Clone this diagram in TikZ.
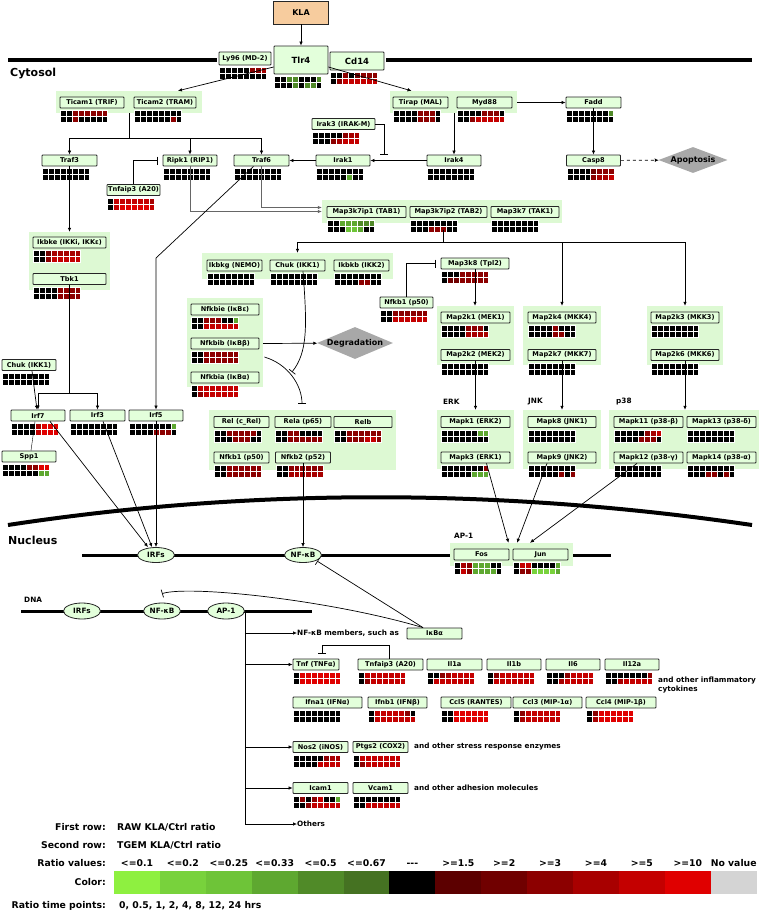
\documentclass[tikz,border=0pt]{standalone}
\usepackage{fontspec}
\setmainfont{DejaVu Sans}
\usetikzlibrary{arrows.meta,shapes.geometric}

\definecolor{genefill}{HTML}{E3FFDB}
\definecolor{grpfill}{HTML}{DDF9D3}
\definecolor{klafill}{HTML}{F7CC9E}
\definecolor{fategray}{HTML}{A8A8A8}
% heat map colours
\definecolor{hck}{HTML}{000000}
\definecolor{hc1}{HTML}{5C0000}
\definecolor{hc2}{HTML}{700000}
\definecolor{hc3}{HTML}{8C0000}
\definecolor{hc4}{HTML}{A80000}
\definecolor{hc5}{HTML}{C40000}
\definecolor{hc6}{HTML}{E00000}
\definecolor{hca}{HTML}{8EF040}
\definecolor{hcb}{HTML}{78D23C}
\definecolor{hcc}{HTML}{6EC438}
\definecolor{hcd}{HTML}{5EA830}
\definecolor{hce}{HTML}{508A28}
\definecolor{hcf}{HTML}{457222}
\definecolor{hcn}{HTML}{D4D4D4}

\newcommand\genefont{\bfseries\fontsize{6.6}{7.5}\selectfont}
\newcommand\labfont{\bfseries\fontsize{7.3}{8.5}\selectfont}
\newcommand\fatefont{\bfseries\fontsize{8}{9}\selectfont}
\newcommand\legfont{\bfseries\fontsize{9.3}{11}\selectfont}
\newcommand\compfont{\bfseries\fontsize{11}{13}\selectfont}

% two rows of eight cells under a gene box
\newcommand\heat[3]{%
  \coordinate (hp) at ([shift={(1,2)}]#1.south west);
  \def\hy{0}\def\hx{0}\hcells#2\relax
  \def\hy{6}\def\hx{0}\hcells#3\relax}
\def\hcells#1{\ifx#1\relax\else
  \path[fill=hc#1, draw=white, line width=0.45pt] ([shift={(\hx,\hy)}]hp) rectangle ++(5.875,6);
  \pgfmathsetmacro\hx{\hx+5.875}%
  \expandafter\hcells\fi}

\tikzset{
  gene/.style={draw=black!85, fill=genefill, line width=0.8pt, rounded corners=0.8pt,
    inner sep=0pt, minimum height=11, font=\genefont},
  grp/.style={fill=grpfill, inner sep=0pt},
  arr/.style={-{Latex[length=4pt,width=3.6pt]}, line width=0.7pt},
  inh/.style={-{Bar[width=8pt]}, line width=0.7pt},
  tf/.style={ellipse, draw=black!85, fill=genefill, line width=0.8pt, inner sep=0pt,
    minimum width=37, minimum height=15, font=\labfont},
  fate/.style={diamond, fill=fategray, inner sep=0pt, font=\fatefont},
  lab/.style={font=\labfont, inner sep=0pt, anchor=west},
  leg/.style={font=\legfont, inner sep=0pt},
  mem/.style={line width=3.5pt},
}

\begin{document}
\begin{tikzpicture}[x=1pt,y=-1pt]
\useasboundingbox (0,0) rectangle (760,913);
%% membranes
\draw[mem] (8,60) -- (217,60);
\draw[mem] (386,60) -- (752,60);
\draw[line width=4pt] (8,525) .. controls (250,488) and (500,488) .. (752,525);
\draw[line width=3pt] (82,555) -- (611,555);
\draw[line width=3pt] (21,611) -- (312,611);
\node[font=\compfont, anchor=west, inner sep=0pt] (cyto) at (10,74) {Cytosol};
\node[font=\compfont, anchor=west, inner sep=0pt] (nucl) at (8,540) {Nucleus};

%% group backgrounds
\node[grp, minimum width=146, minimum height=22] (gTicam) at (129,102) {};
\node[grp, minimum width=127, minimum height=22] (gTirap) at (453.5,102) {};
\node[grp, minimum width=240, minimum height=23] (gTak) at (442,211.5) {};
\node[grp, minimum width=81, minimum height=58] (gIkbke) at (69.5,261) {};
\node[grp, minimum width=191, minimum height=26] (gIKK) at (297.5,266) {};
\node[grp, minimum width=76, minimum height=89] (gIkB) at (225,342.5) {};
\node[grp, minimum width=77, minimum height=59] (gMek) at (475.5,335.5) {};
\node[grp, minimum width=78, minimum height=59] (gMkk4) at (562,335.5) {};
\node[grp, minimum width=76, minimum height=59] (gMkk3) at (685,335.5) {};
\node[grp, minimum width=187, minimum height=60] (gNFkB) at (302.5,440) {};
\node[grp, minimum width=77, minimum height=59] (gErk) at (475.5,439.5) {};
\node[grp, minimum width=78, minimum height=59] (gJnk) at (562,439.5) {};
\node[grp, minimum width=150, minimum height=59] (gP38) at (684,439.5) {};
\node[grp, minimum width=123, minimum height=23] (gAP1) at (511.5,554.5) {};

%% receptor
\node[draw=black!85, fill=klafill, line width=0.8pt, minimum width=55, minimum height=23,
  font=\fatefont] (KLA) at (301,12.5) {KLA};
\node[gene, minimum width=52, minimum height=13] (Ly96) at (245,58.5) {Ly96 (MD-2)};
\node[gene, minimum width=54, minimum height=28, font=\bfseries\fontsize{8.5}{10}\selectfont] (Tlr4) at (301,60) {Tlr4};
\node[gene, minimum width=54, minimum height=18, font=\bfseries\fontsize{8.5}{10}\selectfont] (Cd14) at (357,61) {Cd14};

%% adaptors and kinases
\node[gene, minimum width=64] (Ticam1) at (92,102.5) {Ticam1 (TRIF)};
\node[gene, minimum width=62] (Ticam2) at (165,102.5) {Ticam2 (TRAM)};
\node[gene, minimum width=55] (Tirap) at (420.5,102.5) {Tirap (MAL)};
\node[gene, minimum width=55] (Myd88) at (484.5,102.5) {Myd88};
\node[gene, minimum width=55] (Fadd) at (593.5,102.5) {Fadd};
\node[gene, minimum width=63] (Irak3) at (343.5,124) {Irak3 (IRAK-M)};
\node[gene, minimum width=55] (Traf3) at (69.5,160.5) {Traf3};
\node[gene, minimum width=54] (Ripk1) at (190,160.5) {Ripk1 (RIP1)};
\node[gene, minimum width=55] (Traf6) at (261.5,160.5) {Traf6};
\node[gene, minimum width=54] (Irak1) at (343,160.5) {Irak1};
\node[gene, minimum width=54] (Irak4) at (454,160.5) {Irak4};
\node[gene, minimum width=54] (Casp8) at (593.5,160.5) {Casp8};
\node[fate, aspect=2.65, minimum width=69, minimum height=26] (Apop) at (693,160) {Apoptosis};
\node[gene, minimum width=53] (TnfaipA) at (133.5,190) {Tnfaip3 (A20)};
\node[gene, minimum width=79] (Tab1) at (366.5,212) {Map3k7ip1 (TAB1)};
\node[gene, minimum width=77] (Tab2) at (448.5,212) {Map3k7ip2 (TAB2)};
\node[gene, minimum width=68] (Tak1) at (525,212) {Map3k7 (TAK1)};
\node[gene, minimum width=73] (Ikbke) at (69.5,242.5) {Ikbke (IKKi, IKKε)};
\node[gene, minimum width=73] (Tbk1) at (69.5,279) {Tbk1};
\node[gene, minimum width=55] (Ikbkg) at (234.5,265.5) {Ikbkg (NEMO)};
\node[gene, minimum width=55] (Chuk) at (297.5,265.5) {Chuk (IKK1)};
\node[gene, minimum width=55] (Ikbkb) at (361.5,265.5) {Ikbkb (IKK2)};
\node[gene, minimum width=68] (Tpl2) at (475,263.5) {Map3k8 (Tpl2)};
\node[gene, minimum width=53] (NfkbA) at (406.5,302.5) {Nfkb1 (p50)};
\node[gene, minimum width=68] (Nfkbie) at (225,309.5) {Nfkbie (IκBε)};
\node[gene, minimum width=68] (Nfkbib) at (225,343.5) {Nfkbib (IκBβ)};
\node[gene, minimum width=68] (Nfkbia) at (225,377.5) {Nfkbia (IκBα)};
\node[fate, aspect=2.35, minimum width=76, minimum height=32] (Degr) at (355,343) {Degradation};
\node[gene, minimum width=69] (Mek1) at (475.5,317.5) {Map2k1 (MEK1)};
\node[gene, minimum width=69] (Mek2) at (475.5,355) {Map2k2 (MEK2)};
\node[gene, minimum width=68] (Mkk4) at (562,317.5) {Map2k4 (MKK4)};
\node[gene, minimum width=68] (Mkk7) at (562,355) {Map2k7 (MKK7)};
\node[gene, minimum width=68] (Mkk3) at (685,317.5) {Map2k3 (MKK3)};
\node[gene, minimum width=68] (Mkk6) at (685,355) {Map2k6 (MKK6)};
\node[gene, minimum width=54] (ChukL) at (29,365) {Chuk (IKK1)};

%% transcription factors
\node[gene, minimum width=54] (Irf7) at (38,415.5) {Irf7};
\node[gene, minimum width=55] (Irf3) at (97.5,415.5) {Irf3};
\node[gene, minimum width=54] (Irf5) at (156,415.5) {Irf5};
\node[gene, minimum width=54] (Spp1) at (29,456.5) {Spp1};
\node[gene, minimum width=55] (Rel) at (241.5,422) {Rel (c\_Rel)};
\node[gene, minimum width=56] (Rela) at (303,422) {Rela (p65)};
\node[gene, minimum width=58] (Relb) at (363,422) {Relb};
\node[gene, minimum width=55] (NfkbB) at (241.5,457.5) {Nfkb1 (p50)};
\node[gene, minimum width=55] (Nfkb2) at (303,457.5) {Nfkb2 (p52)};
\node[lab] (lErk) at (443,402) {ERK};
\node[lab] (lJnk) at (528,402) {JNK};
\node[lab] (lP38) at (616,402) {p38};
\node[gene, minimum width=69] (Erk2) at (475.5,422) {Mapk1 (ERK2)};
\node[gene, minimum width=69] (Erk1) at (475.5,457.5) {Mapk3 (ERK1)};
\node[gene, minimum width=68] (Jnk1) at (562,422) {Mapk8 (JNK1)};
\node[gene, minimum width=68] (Jnk2) at (562,457.5) {Mapk9 (JNK2)};
\node[gene, minimum width=69] (P38b) at (648.5,422) {Mapk11 (p38-β)};
\node[gene, minimum width=69] (P38d) at (721.5,422) {Mapk13 (p38-δ)};
\node[gene, minimum width=69] (P38g) at (648.5,457.5) {Mapk12 (p38-γ)};
\node[gene, minimum width=69] (P38a) at (721.5,457.5) {Mapk14 (p38-α)};

%% nucleus
\node[tf] (IRFn) at (156,555) {IRFs};
\node[tf] (NFkBn) at (303,555) {NF-κB};
\node[lab] (lAP1) at (454,536) {AP-1};
\node[gene, minimum width=55] (Fos) at (481.5,554.5) {Fos};
\node[gene, minimum width=55] (Jun) at (540.5,554.5) {Jun};
\node[lab] (lDNA) at (24,600) {DNA};
\node[tf, minimum height=16] (IRFd) at (82,611) {IRFs};
\node[tf, minimum height=16] (NFkBd) at (162,611) {NF-κB};
\node[tf, minimum height=16] (AP1d) at (226,611) {AP-1};

%% target genes
\node[lab] (Nfm) at (297,633) {NF-κB members, such as};
\node[gene, minimum width=55] (Ikba) at (434.5,633.5) {IκBα};
\node[gene, minimum width=46] (Tnf) at (316,664.5) {Tnf (TNFα)};
\node[gene, minimum width=65] (TnfaipB) at (390.5,664.5) {Tnfaip3 (A20)};
\node[gene, minimum width=55] (Il1a) at (454.5,664.5) {Il1a};
\node[gene, minimum width=54] (Il1b) at (514,664.5) {Il1b};
\node[gene, minimum width=54] (Il6) at (573,664.5) {Il6};
\node[gene, minimum width=54] (Il12a) at (632,664.5) {Il12a};
\node[lab, align=left] (lCyto) at (658,685) {and other inflammatory\\cytokines};
\node[gene, minimum width=69] (Ifna1) at (327.5,702.5) {Ifna1 (IFNα)};
\node[gene, minimum width=59] (Ifnb1) at (397.5,702.5) {Ifnb1 (IFNβ)};
\node[gene, minimum width=70] (Ccl5) at (476,702.5) {Ccl5 (RANTES)};
\node[gene, minimum width=69] (Ccl3) at (547.5,702.5) {Ccl3 (MIP-1α)};
\node[gene, minimum width=70] (Ccl4) at (621,702.5) {Ccl4 (MIP-1β)};
\node[gene, minimum width=55] (Nos2) at (320.5,747) {Nos2 (iNOS)};
\node[gene, minimum width=55] (Ptgs2) at (380.5,747) {Ptgs2 (COX2)};
\node[lab] (lStress) at (414,747) {and other stress response enzymes};
\node[gene, minimum width=55] (Icam1) at (320.5,788) {Icam1};
\node[gene, minimum width=55] (Vcam1) at (380.5,788) {Vcam1};
\node[lab] (lAdh) at (414,788) {and other adhesion molecules};
\node[lab] (Others) at (297,824) {Others};

%% heat maps
\heat{Ly96}{kkkkk334}{kkkkkkkk}
\heat{Tlr4}{kkeekkke}{kkkekeek}
\heat{Cd14}{kk3k2333}{k3555555}
\heat{Ticam1}{kk333333}{kk3kkkkk}
\heat{Ticam2}{kkkkkkkk}{kkkkkk3k}
\heat{Tirap}{kkkk333k}{kkkk333k}
\heat{Myd88}{kkkk333k}{kk355555}
\heat{Fadd}{kkkkkkke}{kkkkkkkk}
\heat{Irak3}{kkkkk344}{kkk34555}
\heat{Traf3}{kkkkkkkk}{kkkkkkkk}
\heat{Ripk1}{kkkkkkkk}{kkkkkkkk}
\heat{Traf6}{kkkkkkkk}{kkkkkkkk}
\heat{Irak1}{kkkkkkkk}{kkkkkdkk}
\heat{Irak4}{kkkkkkkk}{kkkkkkkk}
\heat{Casp8}{kkkk2333}{kkkk3445}
\heat{TnfaipA}{k5555554}{k5666665}
\heat{Tab1}{kkdddeee}{kkkccdkk}
\heat{Tab2}{kkkkkkkk}{kkk333kk}
\heat{Tak1}{kkkkkkkk}{kkkkkkkk}
\heat{Ikbke}{kk244444}{kk355555}
\heat{Tbk1}{kkkk3333}{kkkk3333}
\heat{Ikbkg}{kkkkkkkk}{kkkkkkkk}
\heat{Chuk}{kkkkkkkk}{kkkkkkkk}
\heat{Ikbkb}{kkkkkkkk}{kkkk33kk}
\heat{Tpl2}{kkk33333}{k2233333}
\heat{NfkbA}{kk333333}{kk555555}
\heat{Nfkbie}{kk333kkd}{kk555555}
\heat{Nfkbib}{kk333333}{kk333333}
\heat{Nfkbia}{k5555555}{k3555555}
\heat{Mek1}{kkkk333k}{kkkk4444}
\heat{Mek2}{kkkkkkkk}{kkkkkkkk}
\heat{Mkk4}{kkkk3kkk}{kkkk33kk}
\heat{Mkk7}{kkkkkkkk}{kkkkkkkk}
\heat{Mkk3}{kkkkkkkk}{kkkkkkkk}
\heat{Mkk6}{kkkkkkkk}{kkkkkkkk}
\heat{ChukL}{kkkkkkkk}{kkkkkkkk}
\heat{Irf7}{kkkk4666}{kkkk5666}
\heat{Irf3}{kkkkkkkk}{kkkkkkkk}
\heat{Irf5}{kkkkkkkd}{kkkk333k}
\heat{Spp1}{kkkk3366}{kkkkkkdd}
\heat{Rel}{kk33333k}{kkk333kk}
\heat{Rela}{kk33kkkk}{kk333333}
\heat{Relb}{kk333333}{kk333553}
\heat{NfkbB}{kk333333}{kk333333}
\heat{Nfkb2}{kk333333}{kk444444}
\heat{Erk2}{kkkkkkdd}{kkkkkkkk}
\heat{Erk1}{kkkkkkk3}{kkkkkddd}
\heat{Jnk1}{kkkkkkkk}{kkkkkkkk}
\heat{Jnk2}{kkkkkkkk}{kkkkk3k3}
\heat{P38b}{kkkkk345}{kkkk333k}
\heat{P38d}{kkkkkkkk}{kkkkkkkk}
\heat{P38g}{kkkkkkkk}{kkkkkkkk}
\heat{P38a}{kkkkkkkk}{kkk33k3k}
\heat{Fos}{k43dddkk}{k53ddddk}
\heat{Jun}{k55kkkkd}{k33bbbbd}
\heat{Tnf}{k6666666}{k6666666}
\heat{TnfaipB}{k5555555}{k3555555}
\heat{Il1a}{kk345555}{k5555555}
\heat{Il1b}{k3555555}{k5555555}
\heat{Il6}{kkk35555}{kk455555}
\heat{Il12a}{kkkkkkk3}{kk455555}
\heat{Ifna1}{kkkkkkkk}{kkkkkkkk}
\heat{Ifnb1}{k555553k}{k5555555}
\heat{Ccl5}{kk666666}{kk666666}
\heat{Ccl3}{k3555555}{k4555555}
\heat{Ccl4}{k3666666}{k4666666}
\heat{Nos2}{kkkkk344}{kkkk5555}
\heat{Ptgs2}{k5555555}{k3555555}
\heat{Icam1}{k3k35kkd}{kk355555}
\heat{Vcam1}{kkkkkkkk}{kk555555}

%% connectors
\coordinate (tb) at (129,138);
\coordinate (ik3) at (384,155);
\coordinate (t6) at (156,258);
\coordinate (mt) at (443,230);
\coordinate (mb) at (443,242);
\coordinate (tk) at (69.5,393);
\coordinate (nbar) at (302,404);
\draw[arr] (KLA) -- (Tlr4);
\draw[arr] ([yshift=-7]Tlr4.west) -- ([xshift=49]gTicam.north);
\draw[arr] ([yshift=-7]Tlr4.east) -- ([xshift=-42]gTirap.north);
\draw (gTicam.south) -- (tb);
\draw[arr] (tb) -| (Traf3);
\draw[arr] (tb -| Ripk1) -- (Ripk1);
\draw[arr] (tb) -| (Traf6);
\draw[arr] (gTirap.south -| Irak4) -- (Irak4);
\draw[arr] (gTirap.east |- Myd88) -- (Fadd);
\draw[arr] (Fadd) -- (Casp8);
\draw[arr, dashed] (Casp8) -- (Apop);
\draw[arr] (Irak4) -- (Irak1);
\draw[arr] (Irak1) -- (Traf6);
\draw[inh] (Irak3.east) -| (ik3);
\draw[inh, shorten >=5pt] (TnfaipA.north) |- (Ripk1.west);
\draw[arr, black!60] (Ripk1.south) |- (gTak.west);
\draw[arr, black!60] (Traf6.south) |- ([yshift=4]gTak.west);
\draw[arr] ([xshift=-8]Traf6.south) -- (t6) -- (Irf5);
\draw (mt) -- (mb);
\draw[arr] (mb) -| (Chuk |- gIKK.north);
\draw[arr] (mb) -| (gMkk4);
\draw[arr] (mb) -| (gMkk3);
\draw[arr] (Tpl2.south) -- (Tpl2.south |- gMek.north);
\draw[inh, shorten >=5pt] (NfkbA.north) |- (Tpl2.west);
\draw[inh] ([xshift=5.5]Chuk.south) .. controls (307,325) and (308,352) .. (292,372);
\draw[arr] (gIkB.east |- Nfkbib) -- (Degr);
\draw[inh] ([shift={(5,13.5)}]Nfkbib.east) .. controls (288,364) and (302,385) .. (nbar);
\draw[arr] (Traf3) -- (Traf3 |- gIkbke.north);
\draw (Tbk1.south) -- (tk);
\draw[arr] (tk) -| (Irf7);
\draw[arr] (tk) -| (Irf3);
\draw[arr] ([xshift=3]ChukL.south) -- ([xshift=-1]Irf7.north);
\draw ([xshift=-3]Irf7.south) -- ([xshift=2]Spp1.north);
\draw[arr] ([xshift=12]Irf7.south) -- ([xshift=-8]IRFn.north);
\draw[arr] ([xshift=5.5]Irf3.south) -- ([xshift=-4]IRFn.north);
\draw[arr] (Irf5) -- (IRFn);
\draw[arr] (Nfkb2) -- (NFkBn);
\draw[arr] (Mek2.south) -- (Mek2.south |- gErk.north);
\draw[arr] (Mkk7.south) -- (Mkk7.south |- gJnk.north);
\draw[arr] (Mkk6.south) -- (Mkk6.south |- gP38.north);
\draw[arr] ([xshift=11]Erk1.south) -- ([xshift=-3]gAP1.north);
\draw[arr] ([xshift=-15]Jnk2.south) -- ([xshift=5.5]gAP1.north);
\draw[arr] ([xshift=-11.5]P38g.south) -- ([xshift=18.5]gAP1.north);
\draw[inh, shorten >=1pt] ([xshift=-11.5]Ikba.north) -- (NFkBn.south east);
\draw[inh] ([xshift=-11.5]Ikba.north) .. controls (330,600) and (190,585) .. ([yshift=9]NFkBd.north);
\draw[arr] (AP1d.east) |- (Others);
\draw[arr] (AP1d.east |- Nfm) -- (Nfm);
\draw[arr] (AP1d.east |- Tnf) -- (Tnf);
\draw[arr] (AP1d.east |- Nos2) -- (Nos2);
\draw[arr] (AP1d.east |- Icam1) -- (Icam1);
\draw[inh, shorten >=5pt] ([xshift=-1.5]TnfaipB.north) -- ++(0,-13) -| ([xshift=6]Tnf.north);

%% legend
\node[leg, anchor=east] (lFirst) at (106,827) {First row:};
\node[leg, anchor=west] (vFirst) at (117,827) {RAW KLA/Ctrl ratio};
\node[leg, anchor=east] (lSecond) at (106,845) {Second row:};
\node[leg, anchor=west] (vSecond) at (117,845) {TGEM KLA/Ctrl ratio};
\node[leg, anchor=east] (lRatio) at (106,863) {Ratio values:};
\node[leg, anchor=east] (lColor) at (106,882) {Color:};
\node[leg, anchor=east] (lTime) at (106,906) {Ratio time points:};
\node[leg, anchor=west] (vTime) at (119,906) {0, 0.5, 1, 2, 4, 8, 12, 24 hrs};
\foreach \c [count=\i from 0] in {hca,hcb,hcc,hcd,hce,hcf,hck,hc1,hc2,hc3,hc4,hc5,hc6,hcn}
  \fill[\c] (114+\i*45.9,871) rectangle ++(45.95,23);
\foreach \t [count=\i from 0] in {<=0.1,<=0.2,<=0.25,<=0.33,<=0.5,<=0.67,-{}-{}-,>=1.5,>=2,>=3,>=4,>=5,>=10,No value}
  \node[leg, anchor=base] (lv\i) at (137+\i*45.9,866.5) {\t};
\end{tikzpicture}
\end{document}
